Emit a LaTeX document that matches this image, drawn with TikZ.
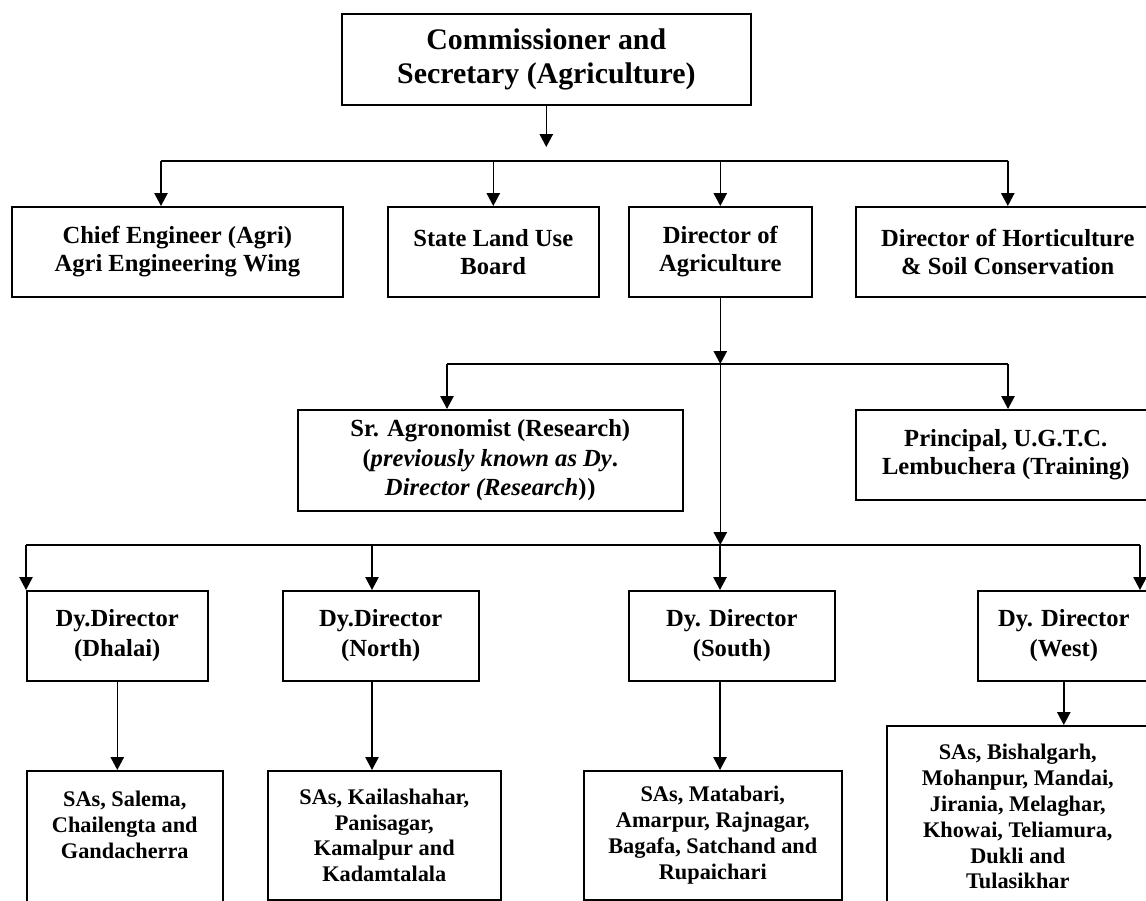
\documentclass[tikz,border=0pt]{standalone}
\usepackage{fontspec}
\setmainfont{Liberation Serif}
\usetikzlibrary{arrows.meta, calc}

\begin{document}
\begin{tikzpicture}[
    x=0.02cm, y=-0.02cm,
    box/.style={rectangle, draw, line width=0.9pt, anchor=north west,
                align=center, inner sep=2pt},
    wh/.style 2 args={minimum width=#1*0.02cm, minimum height=#2*0.02cm},
    headtxt/.style={font=\fontsize{17}{19.5}\selectfont\bfseries},
    wingtxt/.style={font=\fontsize{14}{16}\selectfont\bfseries},
    dytxt/.style={font=\fontsize{14}{17}\selectfont\bfseries},
    satxt/.style={font=\fontsize{12.7}{14.7}\selectfont\bfseries},
    arrow/.style={-{Triangle[length=7.3pt, width=7.5pt]}, line width=0.9pt},
    bus/.style={line width=0.9pt},
  ]

  % page frame; the boxes on the right and at the bottom run off the page
  \path[use as bounding box, clip] (0,0) rectangle (1146,901);

  % Row tops (in pixels of the original, y grows downwards)
  \def\yTop{13}    % commissioner
  \def\yWing{206}  % wings under the commissioner
  \def\ySub{409}   % research / training
  \def\yDy{590}    % deputy directors
  \def\ySA{770}    % sub-divisions

  % ── Commissioner and wings ──────────────────────────────────────
  \node[box, headtxt, wh={409}{91}] (comm) at (341,\yTop)
    {Commissioner and\\Secretary (Agriculture)};

  \node[box, wingtxt, wh={331}{90}] (chief) at (11,\yWing)
    {Chief Engineer (Agri)\\Agri Engineering Wing};
  \node[box, wingtxt, wh={211}{90}] (slub)  at (387,\yWing)
    {State Land Use\\Board};
  \node[box, wingtxt, wh={183}{90}] (doa)   at (628,\yWing)
    {Director of\\Agriculture};
  \node[box, wingtxt, wh={304}{90}] (horti) at (855,\yWing)
    {Director of Horticulture\\\& Soil Conservation};

  % ── Research and training ───────────────────────────────────────
  \node[box, wingtxt, wh={385}{101}, font=\fontsize{14}{16.8}\selectfont\bfseries] (sragro) at (297,\ySub)
    {Sr. Agronomist (Research)\\(\textit{previously known as Dy}.\\\textit{Director (Research})\kern0.5pt)};
  \node[box, wingtxt, wh={300}{90}] (princ) at (855,\ySub)
    {Principal, U.G.T.C.\\Lembuchera (Training)};

  % ── Deputy directors ────────────────────────────────────────────
  \node[box, dytxt, wh={181}{90}] (dydhalai) at (26,\yDy)  {Dy.Director\\(Dhalai)};
  \node[box, dytxt, wh={196}{90}] (dynorth)  at (282,\yDy) {Dy.Director\\(North)};
  \node[box, dytxt, wh={206}{90}] (dysouth)  at (628,\yDy) {Dy. Director\\(South)};
  \node[box, dytxt, wh={172}{90}] (dywest)   at (977,\yDy) {Dy. Director\\(West)};

  % ── Sub-divisions ───────────────────────────────────────────────
  \node[box, satxt, wh={196}{160}] (sadhalai) at (26,\ySA)
    {SAs, Salema,\\Chailengta and\\Gandacherra\\~\\~};
  \node[box, satxt, wh={233}{129}] (sanorth) at (267,\ySA)
    {SAs, Kailashahar,\\Panisagar,\\Kamalpur and\\Kadamtalala};
  \node[box, satxt, wh={258}{129}] (sasouth) at (583,\ySA)
    {SAs, Matabari,\\Amarpur, Rajnagar,\\Bagafa, Satchand and\\Rupaichari};
  \node[box, satxt, wh={262}{182}] (sawest) at (886,725)
    {SAs, Bishalgarh,\\Mohanpur, Mandai,\\Jirania, Melaghar,\\Khowai, Teliamura,\\Dukli and\\Tulasikhar};

  % bus lines and the points where they drop into the boxes
  \coordinate (busA) at (545,161);
  \coordinate (busB) at (720,364);
  \coordinate (busC) at (720,545);
  \coordinate (chiefin) at (161,\yWing);
  \coordinate (agroin)  at (447,\ySub);
  \coordinate (princin) at (1008,\ySub);
  \coordinate (northin) at (372,\yDy);
  \coordinate (southin) at (720,\yDy);
  \coordinate (westin)  at (1140,\yDy);

  % commissioner -> wings
  \draw[arrow] (comm.south) -- ($(comm.south |- busA)+(0,-14)$);
  \draw[bus] (busA -| chiefin) -- (busA -| horti.north);
  \draw[arrow] (busA -| chiefin) -- (chiefin);
  \foreach \n in {slub, doa, horti}
    \draw[arrow] (busA -| \n.north) -- (\n.north);

  % director of agriculture -> research / training
  \draw[arrow] (doa.south) -- (doa.south |- busB);
  \draw[bus] (busB -| agroin) -- (busB -| princin);
  \draw[arrow] (busB -| agroin) -- (agroin);
  \draw[arrow] (busB -| princin) -- (princin);

  % -> deputy directors
  \draw[arrow] (doa.south |- busB) -- (doa.south |- busC);
  \draw[bus] (busC -| dydhalai.north west) -- (busC -| westin);
  \draw[arrow] (busC -| dydhalai.north west) -- (dydhalai.north west);
  \draw[arrow] (busC -| northin) -- (northin);
  \draw[arrow] (busC -| southin) -- (southin);
  \draw[arrow] (busC -| westin) -- (westin);

  % deputy directors -> sub-divisions
  \draw[arrow] (dydhalai.south) -- (dydhalai.south |- sadhalai.north);
  \draw[arrow] (northin |- dynorth.south) -- (northin |- sanorth.north);
  \draw[arrow] (southin |- dysouth.south) -- (southin |- sasouth.north);
  \draw[arrow] (dywest.south) -- (dywest.south |- sawest.north);

\end{tikzpicture}
\end{document}
